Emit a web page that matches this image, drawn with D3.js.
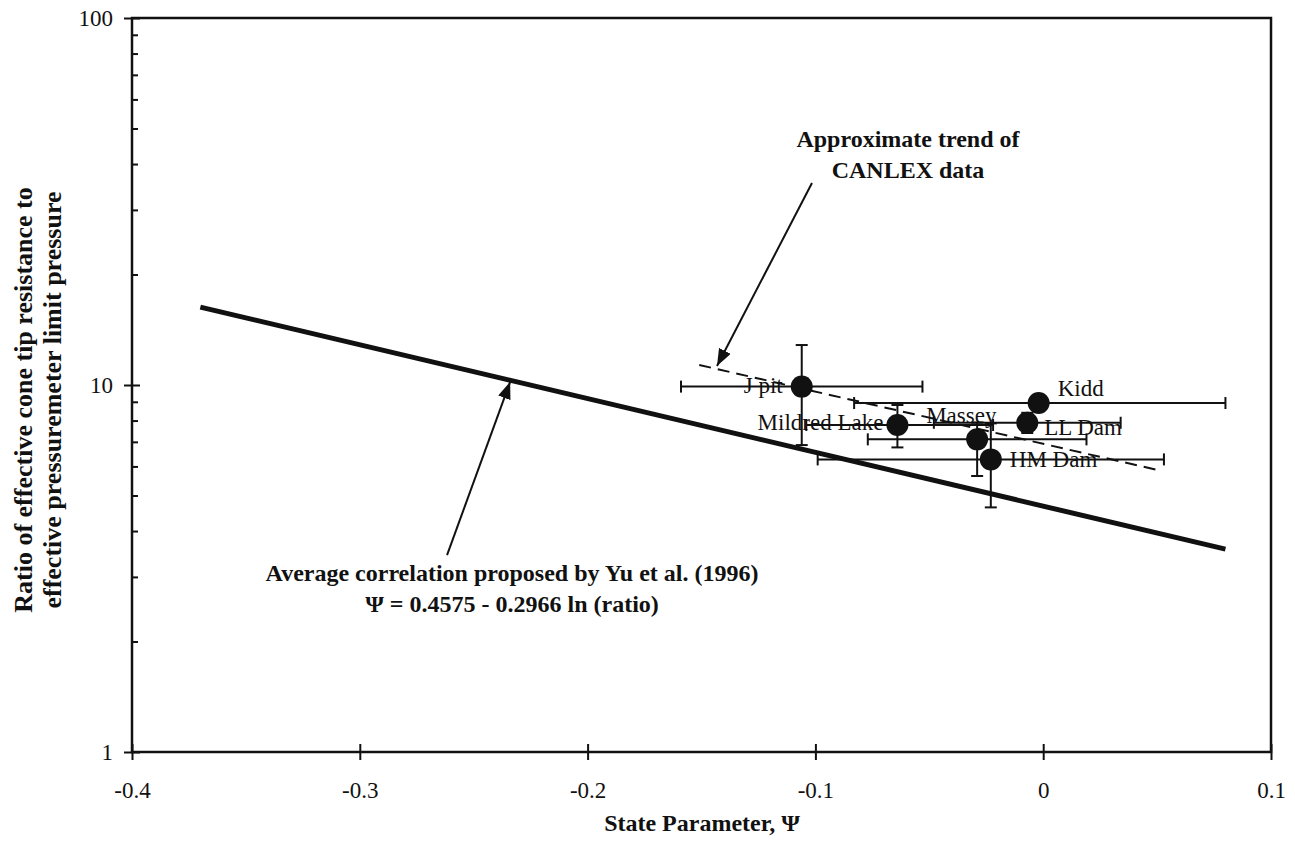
<html>
<head>
<script src="https://d3js.org/d3.v7.min.js"></script>
<style>
  body { margin: 0; background: white; font-family: "Liberation Serif", "Times New Roman", serif; }
  .tick text { font-family: "Liberation Serif", serif; font-size: 23px; fill: #111; }
  .title { font-family: "Liberation Serif", serif; font-weight: bold; font-size: 24px; fill: #111; }
  .ytitle { font-size: 26px; }
  .site { font-family: "Liberation Serif", serif; font-size: 23px; fill: #111; }
</style>
</head>
<body>
<svg id="chart" width="1295" height="842"></svg>
<script>
// sites measured (state parameter, ratio qc/pl) with error ranges
const siteNames = ["J pit", "Kidd", "Mildred Lake", "Massey", "LL Dam", "HM Dam"];
const sitePsi = [-0.106, -0.002, -0.064, -0.029, -0.007, -0.023];
const siteRatio = [9.9, 8.93, 7.78, 7.11, 7.89, 6.27];
const psiLow = [-0.159, -0.083, -0.104, -0.077, -0.048, -0.099];
const psiHigh = [-0.053, 0.080, -0.022, 0.019, 0.034, 0.053];
const ratioLow = [6.86, null, 6.76, 5.65, 7.4, 4.64];
const ratioHigh = [12.85, null, 8.82, 7.9, 8.4, 7.86];

// Yu et al. (1996) correlation, end points
const yuPsi = [-0.37, 0.08];
const yuRatio = [16.3, 3.57];

// approximate CANLEX trend, end points
const trendPsi = [-0.151, 0.050];
const trendRatio = [11.34, 5.87];

const xTicks = [-0.4, -0.3, -0.2, -0.1, 0, 0.1];
const yTicks = [1, 10, 100];
const yMinor = [2, 3, 4, 5, 6, 7, 8, 9, 20, 30, 40, 50, 60, 70, 80, 90];

const xTitle = "State Parameter, \u03A8";
const yTitle = ["Ratio of effective cone tip resistance to", "effective pressuremeter limit pressure"];
const canlexText = ["Approximate trend of", "CANLEX data"];
const yuText = ["Average correlation proposed by Yu et al. (1996)", "\u03A8 = 0.4575 - 0.2966 ln (ratio)"];

// label placement for the site names: [dx, dy, anchor]
const labelPos = [[-19, 6, "end"], [19, -7, "start"], [-14, 5, "end"], [-51, -16, "start"], [17, 12, "start"], [19, 8, "start"]];

const svg = d3.select("#chart");
const plotLeft = 132, plotRight = 1271, plotTop = 18, plotBottom = 752;

const x = d3.scaleLinear().domain([-0.4, 0.1]).range([plotLeft, plotRight]);
const y = d3.scaleLog().domain([1, 100]).range([plotBottom, plotTop]);

svg.append("defs").append("marker")
   .attr("id", "arrow")
   .attr("markerUnits", "userSpaceOnUse")
   .attr("markerWidth", 18).attr("markerHeight", 14)
   .attr("refX", 17).attr("refY", 6.5)
   .attr("orient", "auto")
   .append("path")
   .attr("d", "M0,0 L17,6.5 L0,13 Z")
   .attr("fill", "#111");

const fmt = d => d === 0 ? "0" : String(+d.toFixed(1));

// x axis: labels below, ticks crossing the axis line
svg.append("g")
   .attr("transform", "translate(0," + plotBottom + ")")
   .call(d3.axisBottom(x).tickValues(xTicks).tickFormat(fmt).tickSize(8).tickPadding(22))
   .call(g => g.select(".domain").remove());
svg.append("g")
   .attr("transform", "translate(0," + plotBottom + ")")
   .call(d3.axisTop(x).tickValues(xTicks).tickFormat("").tickSize(8))
   .call(g => g.select(".domain").remove());

// y axis
svg.append("g")
   .attr("transform", "translate(" + plotLeft + ",0)")
   .call(d3.axisLeft(y).tickValues(yTicks).tickFormat(d3.format("d")).tickSize(8).tickPadding(11))
   .call(g => g.select(".domain").remove());
svg.append("g")
   .attr("transform", "translate(" + plotLeft + ",0)")
   .call(d3.axisRight(y).tickValues(yTicks).tickFormat("").tickSize(8))
   .call(g => g.select(".domain").remove());
svg.append("g")
   .attr("transform", "translate(" + plotLeft + ",0)")
   .call(d3.axisRight(y).tickValues(yMinor).tickFormat("").tickSize(6))
   .call(g => g.select(".domain").remove());

svg.selectAll(".tick line").attr("stroke", "#111").attr("stroke-width", 2);

// frame
svg.append("rect")
   .attr("x", plotLeft).attr("y", plotTop)
   .attr("width", plotRight - plotLeft).attr("height", plotBottom - plotTop)
   .attr("fill", "none").attr("stroke", "#111").attr("stroke-width", 2.5);

// titles
svg.append("text").attr("class", "title")
   .attr("x", 702).attr("y", 831)
   .attr("text-anchor", "middle").text(xTitle);

svg.selectAll("text.ytitle").data(yTitle).join("text")
   .attr("class", "title ytitle")
   .attr("text-anchor", "middle")
   .attr("transform", (d, i) => "translate(" + (32 + i * 29) + ",400) rotate(-90)")
   .text(d => d);

// Yu et al. line
const line = d3.line().x(d => x(d[0])).y(d => y(d[1]));
svg.append("path")
   .datum(d3.zip(yuPsi, yuRatio))
   .attr("d", line)
   .attr("fill", "none").attr("stroke", "#111").attr("stroke-width", 5);

// CANLEX trend
svg.append("path")
   .datum(d3.zip(trendPsi, trendRatio))
   .attr("d", line)
   .attr("fill", "none").attr("stroke", "#111").attr("stroke-width", 2)
   .attr("stroke-dasharray", "12,7");

// error bars
const sites = siteNames.map((n, i) => ({
  name: n, psi: sitePsi[i], ratio: siteRatio[i],
  lo: psiLow[i], hi: psiHigh[i], rlo: ratioLow[i], rhi: ratioHigh[i], pos: labelPos[i]
}));
const cap = 6;
const eb = svg.append("g").attr("stroke", "#111").attr("stroke-width", 2);
sites.forEach(d => {
  const cy = y(d.ratio);
  eb.append("line").attr("x1", x(d.lo)).attr("x2", x(d.hi)).attr("y1", cy).attr("y2", cy);
  eb.append("line").attr("x1", x(d.lo)).attr("x2", x(d.lo)).attr("y1", cy - cap).attr("y2", cy + cap);
  eb.append("line").attr("x1", x(d.hi)).attr("x2", x(d.hi)).attr("y1", cy - cap).attr("y2", cy + cap);
  if (d.rlo !== null) {
    const cx = x(d.psi);
    eb.append("line").attr("x1", cx).attr("x2", cx).attr("y1", y(d.rlo)).attr("y2", y(d.rhi));
    eb.append("line").attr("x1", cx - cap).attr("x2", cx + cap).attr("y1", y(d.rlo)).attr("y2", y(d.rlo));
    eb.append("line").attr("x1", cx - cap).attr("x2", cx + cap).attr("y1", y(d.rhi)).attr("y2", y(d.rhi));
  }
});

svg.selectAll("circle.site").data(sites).join("circle")
   .attr("class", "site")
   .attr("cx", d => x(d.psi)).attr("cy", d => y(d.ratio))
   .attr("r", 11).attr("fill", "#111");

svg.selectAll("text.site").data(sites).join("text")
   .attr("class", "site")
   .attr("x", d => x(d.psi) + d.pos[0])
   .attr("y", d => y(d.ratio) + d.pos[1])
   .attr("text-anchor", d => d.pos[2])
   .text(d => d.name);

// annotations
svg.append("line")
   .attr("x1", x(-0.1015)).attr("y1", y(35.5))
   .attr("x2", x(-0.1432)).attr("y2", y(11.27))
   .attr("stroke", "#111").attr("stroke-width", 2).attr("marker-end", "url(#arrow)");
svg.append("line")
   .attr("x1", x(-0.2617)).attr("y1", y(3.44))
   .attr("x2", x(-0.234)).attr("y2", y(10.2))
   .attr("stroke", "#111").attr("stroke-width", 2).attr("marker-end", "url(#arrow)");

svg.selectAll("text.canlex").data(canlexText).join("text")
   .attr("class", "title canlex")
   .attr("x", 908).attr("y", (d, i) => 147 + i * 31)
   .attr("text-anchor", "middle").text(d => d);

svg.selectAll("text.yu").data(yuText).join("text")
   .attr("class", "title yu")
   .attr("x", 512).attr("y", (d, i) => 581 + i * 31)
   .attr("text-anchor", "middle").text(d => d);
</script>
</body>
</html>
